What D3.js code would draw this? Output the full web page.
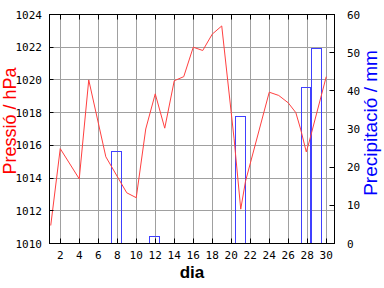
<!DOCTYPE html>
<html>
<head>
<meta charset="utf-8">
<script src="https://cdn.jsdelivr.net/npm/d3@7"></script>
<style>
  html, body { margin: 0; padding: 0; background: #fff; }
  svg { display: block; }
  .tick-label { font-family: "DejaVu Sans Mono", monospace; font-size: 11px; fill: #000; }
</style>
</head>
<body>
<div id="chart"></div>
<script>
// pressure readings (day of month, hPa)
const pressDays = [1, 2, 4, 5, 6.8, 9, 10, 11, 12, 13, 14, 15, 16, 17, 18, 19, 20.3, 21, 21.5, 24, 25, 26, 26.8, 27.3, 27.9, 28.2, 30];
const pressure = [1011.1, 1015.8, 1013.95, 1020.0, 1015.3, 1013.1, 1012.8, 1017.0, 1019.15, 1017.05, 1019.95, 1020.2, 1022.0, 1021.8, 1022.8, 1023.3, 1016.4, 1012.1, 1013.8, 1019.25, 1019.05, 1018.6, 1018.0, 1017.0, 1015.6, 1016.2, 1020.2];

// daily precipitation, mm
const rainDays = d3.range(1, 31);
const rain = [0, 0, 0, 0, 0, 0, 0, 24, 0, 0, 0, 1.8, 0, 0, 0, 0, 0, 0, 0, 0, 33.3, 0, 0, 0, 0, 0, 0, 41, 51, 0];

const xTicks = [2, 4, 6, 8, 10, 12, 14, 16, 18, 20, 22, 24, 26, 28, 30];
const pressTicks = [1010, 1012, 1014, 1016, 1018, 1020, 1022, 1024];
const rainTicks = [0, 10, 20, 30, 40, 50, 60];

const w = 384, h = 288;
const pLeft = 49.5, pRight = 334.5, pTop = 14.5, pBottom = 243.5;

const svg = d3.select("#chart").append("svg").attr("width", w).attr("height", h);

const x = d3.scaleLinear().domain([0.87, 30.87]).range([pLeft, pRight]);
const yP = d3.scaleLinear().domain([1010, 1024]).range([pBottom, pTop]);
const yR = d3.scaleLinear().domain([0, 60]).range([pBottom, pTop]);

const snap = (v) => Math.round(v - 0.5) + 0.5;

// grid
svg.append("g").selectAll("line").data(xTicks).enter().append("line")
  .attr("x1", (d) => snap(x(d))).attr("x2", (d) => snap(x(d)))
  .attr("y1", pTop).attr("y2", pBottom)
  .attr("stroke", "#a0a0a0");
svg.append("g").selectAll("line").data(pressTicks.slice(1, -1)).enter().append("line")
  .attr("x1", pLeft).attr("x2", pRight)
  .attr("y1", (d) => snap(yP(d))).attr("y2", (d) => snap(yP(d)))
  .attr("stroke", "#a0a0a0");

// precipitation bars (outlined)
const bars = rainDays.map((d, i) => ({ day: d, mm: rain[i] })).filter((d) => d.mm > 0);
svg.append("g").attr("class", "bars").selectAll("rect").data(bars).enter().append("rect")
  .attr("x", (d) => snap(x(d.day - 0.6)))
  .attr("width", (d) => Math.round(x(d.day + 0.4) - x(d.day - 0.6)))
  .attr("y", (d) => snap(yR(d.mm)))
  .attr("height", (d) => pBottom - snap(yR(d.mm)))
  .style("fill", "none")
  .style("stroke", "#4040ff")
  .style("stroke-width", 1);

// pressure line
const line = d3.line().x((d) => x(d[0])).y((d) => yP(d[1]));
svg.append("path")
  .datum(pressDays.map((d, i) => [d, pressure[i]]))
  .attr("d", line)
  .attr("fill", "none")
  .attr("stroke", "#ff4040")
  .attr("stroke-width", 1);

// frame + inner ticks
const ax = svg.append("g").attr("stroke", "#000");
ax.append("rect").attr("x", pLeft).attr("y", pTop)
  .attr("width", pRight - pLeft).attr("height", pBottom - pTop).attr("fill", "none");
xTicks.forEach((d) => {
  const xx = snap(x(d));
  ax.append("line").attr("x1", xx).attr("x2", xx).attr("y1", pTop).attr("y2", pTop + 5);
  ax.append("line").attr("x1", xx).attr("x2", xx).attr("y1", pBottom).attr("y2", pBottom - 5);
});
pressTicks.forEach((d) => {
  const yy = snap(yP(d));
  ax.append("line").attr("x1", pLeft).attr("x2", pLeft + 4).attr("y1", yy).attr("y2", yy);
});
rainTicks.forEach((d) => {
  const yy = snap(yR(d));
  ax.append("line").attr("x1", pRight).attr("x2", pRight - 5).attr("y1", yy).attr("y2", yy);
});

// tick labels
svg.append("g").selectAll("text").data(pressTicks).enter().append("text")
  .attr("class", "tick-label")
  .attr("x", 42).attr("y", (d) => yP(d) + 4)
  .attr("text-anchor", "end")
  .text((d) => d);
svg.append("g").selectAll("text").data(rainTicks).enter().append("text")
  .attr("class", "tick-label")
  .attr("x", 347).attr("y", (d) => yR(d) + 4)
  .text((d) => d);
svg.append("g").selectAll("text").data(xTicks).enter().append("text")
  .attr("class", "tick-label")
  .attr("x", (d) => x(d)).attr("y", 259)
  .attr("text-anchor", "middle")
  .text((d) => d);

// axis titles
svg.append("text")
  .attr("transform", "translate(16,121) rotate(-90)")
  .attr("text-anchor", "middle")
  .style("font-family", "Liberation Sans, Arial, sans-serif")
  .style("font-size", "18px")
  .attr("fill", "#ff0000")
  .text("Pressió / hPa");
svg.append("text")
  .attr("transform", "translate(377,123) rotate(-90)")
  .attr("text-anchor", "middle")
  .style("font-family", "Liberation Sans, Arial, sans-serif")
  .style("font-size", "19px")
  .attr("fill", "#0000ff")
  .text("Precipitació / mm");
svg.append("text")
  .attr("x", 192).attr("y", 278)
  .attr("text-anchor", "middle")
  .style("font-family", "Liberation Sans, Arial, sans-serif")
  .style("font-size", "17px")
  .style("font-weight", "bold")
  .attr("fill", "#000")
  .text("dia");
</script>
</body>
</html>
